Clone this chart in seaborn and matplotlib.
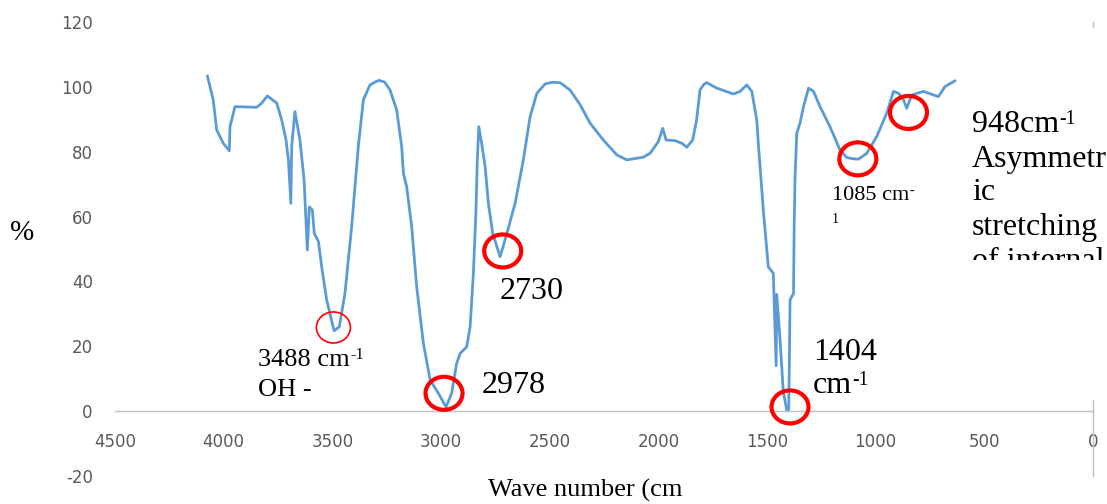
import numpy as np
import pandas as pd
import matplotlib
matplotlib.use("Agg")
import matplotlib.pyplot as plt
import seaborn as sns
from matplotlib.patches import Ellipse, Rectangle
from matplotlib.transforms import Bbox, TransformedBbox

# ---------------- data ----------------
wavenumber = [4075, 4048, 4032, 4002, 3974, 3971, 3948, 3848, 3825, 3799,
              3756, 3733, 3713, 3702, 3691, 3687, 3672, 3649, 3630, 3615,
              3606, 3592, 3583, 3564, 3549, 3526, 3492, 3468, 3442, 3411,
              3380, 3357, 3327, 3300, 3285, 3260, 3235, 3204, 3181, 3173,
              3158, 3135, 3112, 3081, 3050, 3012, 2977, 2951, 2928, 2912,
              2882, 2866, 2851, 2839, 2833, 2826, 2813, 2797, 2782, 2762,
              2728, 2697, 2659, 2621, 2590, 2559, 2521, 2490, 2452, 2406,
              2360, 2314, 2253, 2191, 2145, 2069, 2038, 2000, 1980, 1964,
              1923, 1892, 1869, 1842, 1824, 1808, 1790, 1777, 1731, 1655,
              1624, 1593, 1570, 1547, 1540, 1517, 1494, 1471, 1458, 1455,
              1440, 1425, 1408, 1400, 1397, 1394, 1378, 1375, 1371, 1363,
              1348, 1332, 1309, 1286, 1256, 1210, 1164, 1133, 1102, 1079,
              1041, 995, 949, 918, 895, 872, 857, 834, 780, 734,
              711, 681, 634]
transmittance = [103.4, 96.0, 86.7, 82.6, 80.3, 87.7, 93.9, 93.7, 95.0, 97.2,
                 95.0, 89.8, 83.6, 77.5, 64.1, 81.6, 92.4, 83.6, 71.3, 49.7,
                 63.0, 62.0, 54.8, 52.3, 44.5, 34.3, 24.8, 26.0, 36.3, 56.9,
                 82.0, 96.0, 100.6, 101.6, 102.0, 101.5, 99.1, 92.9, 81.6, 73.4,
                 69.2, 56.9, 38.4, 20.9, 9.6, 5.5, 1.3, 5.5, 14.7, 17.8,
                 19.8, 26.0, 42.5, 62.0, 77.5, 87.7, 82.6, 75.4, 64.1, 54.8,
                 47.6, 54.8, 64.1, 77.5, 90.8, 98.0, 100.9, 101.4, 101.3, 99.0,
                 94.5, 88.8, 83.6, 79.0, 77.5, 78.3, 79.5, 83.1, 87.2, 83.6,
                 83.4, 82.6, 81.4, 83.6, 89.8, 99.1, 100.8, 101.3, 99.6, 97.8,
                 98.6, 100.6, 98.6, 89.8, 82.6, 62.0, 44.5, 42.5, 14.0, 36.0,
                 22.0, 6.0, 0.0, 0.5, 15.7, 34.3, 36.3, 56.9, 72.3, 85.7,
                 88.8, 93.9, 99.6, 98.6, 93.9, 87.7, 80.5, 78.2, 77.8, 77.7,
                 79.5, 84.7, 91.9, 98.6, 98.0, 96.0, 93.4, 97.5, 98.6, 97.5,
                 97.0, 100.1, 101.9]

x_ticks = [4500, 4000, 3500, 3000, 2500, 2000, 1500, 1000, 500, 0]
y_ticks = [-20, 0, 20, 40, 60, 80, 100, 120]

# red circles marking the peaks
circle_x = [3495, 2986, 2716, 1394, 1082, 849]
circle_y = [25.8, 5.5, 49.4, 1.3, 77.8, 92.1]

# annotation texts (base text + superscript part)
ann_base = ["3488 cm", "OH -", "2978", "2730", "1404", "cm", "1085 cm", "1"]
ann_sup = ["-1", "", "", "", "", "-1", "-", ""]
ann_x = [3842, 3842, 2813, 2728, 1288, 1288, 1201, 1201]
ann_y = [13.9, 4.6, 5.6, 34.6, 15.7, 5.6, 65.1, 58.0]

side_base = ["948cm", "Asymmetr", "ic", "stretching", "of internal"]
side_sup = ["-1", "", "", "", ""]
side_x = 557
side_y = [86.1, 75.4, 65.1, 54.3, 43.8]

# ---------------- style ----------------
sns.set_theme(style="white")
plt.rcParams["font.family"] = ["DejaVu Sans"]
plt.rcParams["axes.unicode_minus"] = False

W, H = 1107, 504
fig = plt.figure(figsize=(W / 100, H / 100), dpi=100)
fig.patch.set_facecolor("white")
ax = fig.add_axes([115 / W, 28 / H, 978 / W, 454 / H])
ax.set_facecolor("white")

df = pd.DataFrame({"wn": wavenumber, "T": transmittance})
sns.lineplot(data=df, x="wn", y="T", sort=False, estimator=None,
             color="#5B9BD5", lw=2.0, ax=ax)

ax.set_xlim(4500, 0)
ax.set_ylim(-20, 120)
ax.set_xticks(x_ticks)
ax.set_yticks(y_ticks)
ax.set_xlabel("")
ax.set_ylabel("")

for s in ["top", "left"]:
    ax.spines[s].set_visible(False)
ax.spines["bottom"].set_position(("data", 0))
ax.spines["bottom"].set_color("#BFBFBF")
ax.spines["bottom"].set_linewidth(1.0)
ax.spines["right"].set_color("#BFBFBF")
ax.spines["right"].set_linewidth(1.0)

ax.tick_params(axis="both", length=0, labelsize=12, labelcolor="#595959")
ax.tick_params(axis="x", pad=16)
ax.tick_params(axis="y", pad=16)
ax.grid(False)

# red circles
x_per_px = 4500 / 978
y_per_px = 140 / 454
for i, (cx, cy) in enumerate(zip(circle_x, circle_y)):
    wpx, hpx, lw = (34, 31, 1.2) if i == 0 else (37, 33, 3.0)
    ax.add_patch(Ellipse((cx, cy), wpx * x_per_px, hpx * y_per_px,
                         fill=False, edgecolor="#FF0000", lw=lw, zorder=4,
                         clip_on=False))

serif = "Liberation Serif"


def put(x, y, base, sup, fs, clipbox=None):
    t = ax.text(x, y, base, ha="left", va="baseline", fontsize=fs,
                family=serif, color="black", zorder=5)
    if clipbox is not None:
        t.set_clip_box(clipbox)
        t.set_clip_on(True)
    if sup:
        ax.annotate(sup, xy=(1, y), xycoords=(t, "data"),
                    xytext=(0.3, 0.25 * fs), textcoords="offset points",
                    ha="left", va="baseline", fontsize=0.62 * fs,
                    family=serif, color="black", zorder=5,
                    annotation_clip=False)
    return t


sizes = [19, 19, 23, 23, 23, 23, 16, 10]
for b, s, x, y, fs in zip(ann_base, ann_sup, ann_x, ann_y, sizes):
    put(x, y, b, s, fs)

# white text box on the right that hides part of the axis line
ax.add_patch(Rectangle((962 / W, 1 - 400 / H), 145 / W, 372 / H,
                       transform=fig.transFigure, facecolor="white",
                       edgecolor="none", zorder=2.6, clip_on=False))
clip = TransformedBbox(Bbox([[0, 1 - 260 / H], [1, 1]]), fig.transFigure)
for b, s, y in zip(side_base, side_sup, side_y):
    put(side_x, y, b, s, 23, clipbox=clip)

fig.text(10 / W, 1 - 240 / H, "%", ha="left", va="baseline",
         fontsize=21, family=serif, color="black")
fig.text(585 / W, 1 - 497 / H, "Wave number (cm", ha="center",
         va="baseline", fontsize=19, family=serif, color="black")

fig.savefig("out.png", dpi=100, facecolor="white")
